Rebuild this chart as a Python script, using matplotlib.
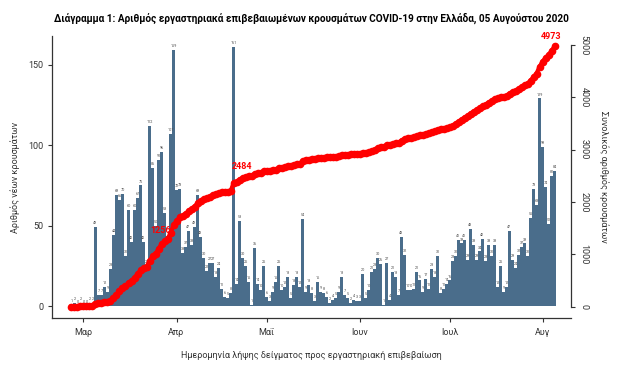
import numpy as np
import pandas as pd
import matplotlib
matplotlib.use('Agg')
import matplotlib.pyplot as plt

plt.rcParams['font.family'] = ['Roboto', 'DejaVu Sans']

# daily lab-confirmed cases by sampling date, 26 Feb - 5 Aug 2020
dates = pd.date_range('2020-02-26', '2020-08-05', freq='D')
new_cases = [
    1, 2, 0, 2, 0, 0, 2, 2,
    49,
    7, 7, 12, 9, 23, 44, 69, 66, 70, 31, 60, 40, 60, 67, 75, 40, 25,
    112, 86, 50, 91, 96, 58, 40, 107, 159,
    72, 73, 33, 37, 47, 38, 49, 69, 43, 30, 22, 27, 27, 18, 24, 11, 6, 5, 8,
    161,
    14, 53, 30, 25, 15, 1, 36,
    14, 10, 25, 6, 3, 9, 15, 25, 10, 12, 18, 5, 13, 18, 12, 54, 9, 13, 8, 3,
    15, 9, 8, 6, 2, 4, 5, 9, 18, 7, 5, 2, 4,
    3, 3, 20, 5, 10, 21, 23, 30, 26, 1, 27, 4, 21, 18, 7,
    43, 32, 10, 10, 11, 21, 16, 9, 17, 11, 23, 18, 31, 8, 11, 14, 16, 28, 31,
    41, 39, 41, 29, 48, 38, 29, 34, 42, 28, 38, 31, 38, 12, 25, 9, 12, 47, 29,
    24, 32, 37, 39, 31, 55, 73, 63, 129, 99, 74, 51, 81, 84,
]
cum_cases = np.cumsum(new_cases)

month_labels = ['Μαρ', 'Απρ', 'Μαΐ', 'Ιουν', 'Ιουλ', 'Αυγ']
month_starts = pd.date_range('2020-03-01', '2020-08-01', freq='MS')

# cumulative values written on the red line
mark_dates = ['2020-03-28', '2020-04-24', '2020-08-05']
mark_values = [1256, 2484, 4973]

bar_color = '#4a6d8b'
axis_color = '#333333'

x = np.arange(len(dates))
month_pos = [(d - dates[0]).days for d in month_starts]

fig = plt.figure(figsize=(6.29, 3.68), dpi=100)
ax = fig.add_axes([52 / 629, 50 / 368, 519 / 629, 282 / 368])

ax.bar(x, new_cases, width=0.82, color=bar_color, linewidth=0)
for xi, v in zip(x, new_cases):
    ax.text(xi, v + 1.2, str(v), ha='center', va='bottom',
            fontsize=2.7, color='#4d4d4d')

ax.set_xlim(-6.5, 166.5)
ax.set_ylim(-7.3, 167.8)
ax.set_yticks([0, 50, 100, 150])
ax.set_xticks(month_pos)
ax.set_xticklabels(month_labels)
for s in ['top', 'right']:
    ax.spines[s].set_visible(False)
for s in ['left', 'bottom']:
    ax.spines[s].set_color(axis_color)
    ax.spines[s].set_linewidth(0.9)
ax.tick_params(axis='both', direction='out', length=3, width=0.8,
               labelsize=6.5, colors=axis_color, pad=3)
ax.tick_params(axis='x', pad=4)
ax.set_ylabel('Αριθμός νέων κρουσμάτων', fontsize=6.5, color=axis_color,
              labelpad=6)
ax.set_xlabel('Ημερομηνία λήψης δείγματος προς εργαστηριακή επιβεβαίωση',
              fontsize=6.5, color=axis_color, labelpad=10)

# cumulative line on the right axis
ax2 = ax.twinx()
ax2.plot(x, cum_cases, color='red', lw=3, marker='o', ms=4.5, zorder=3)
for d, v in zip(mark_dates, mark_values):
    idx = (pd.Timestamp(d) - dates[0]).days
    ax2.annotate(str(v), (idx, v), xytext=(-2.5, 4), textcoords='offset points',
                 ha='center', va='bottom', color='red', fontweight='bold',
                 fontsize=6.5, zorder=6)
ax2.set_ylim(-216, 5172)
ax2.set_yticks(range(0, 5001, 1000))
for s in ['top', 'left', 'bottom']:
    ax2.spines[s].set_visible(False)
ax2.spines['right'].set_bounds(0, 5000)
ax2.spines['right'].set_color(axis_color)
ax2.spines['right'].set_linewidth(0.9)
ax2.tick_params(axis='y', direction='out', length=3, width=0.8,
                labelsize=6.5, colors=axis_color, pad=3)
for lab in ax2.get_yticklabels():
    lab.set_rotation(-90)
    lab.set_va('center')
ax2.set_ylabel('Συνολικός αριθμός κρουσμάτων', fontsize=6.5,
               color=axis_color, rotation=-90, labelpad=15)

fig.suptitle('Διάγραμμα 1: Αριθμός εργαστηριακά επιβεβαιωμένων κρουσμάτων '
             'COVID-19 στην Ελλάδα, 05 Αυγούστου 2020',
             x=311 / 629, y=1 - 18 / 368, va='center', fontsize=7.2,
             fontweight='bold')

fig.savefig('out.png', dpi=100)
